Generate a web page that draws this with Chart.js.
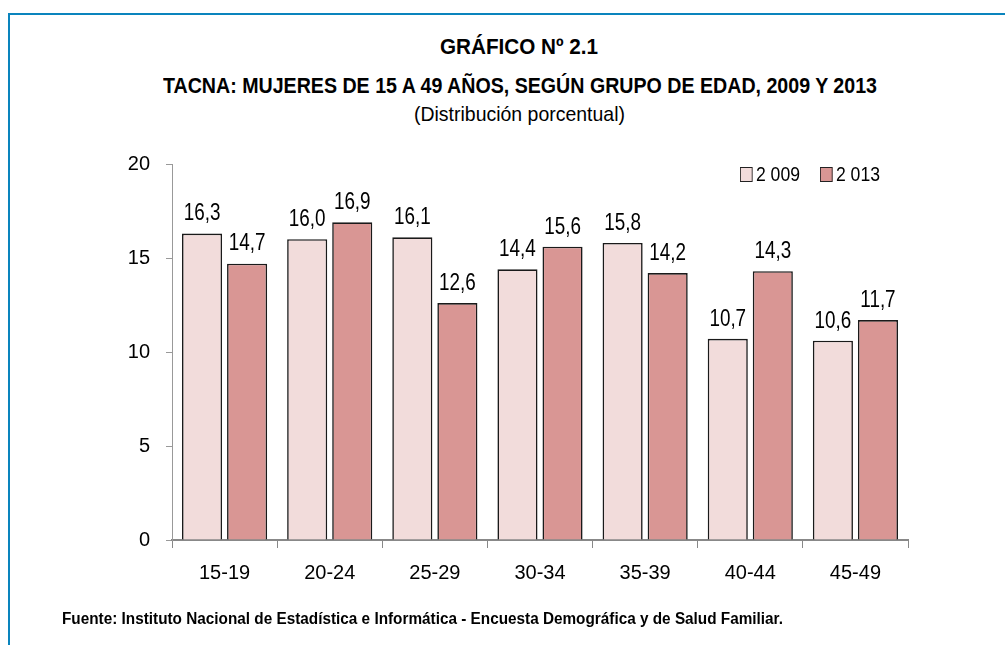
<!DOCTYPE html>
<html>
<head>
<meta charset="utf-8">
<script src="https://cdn.jsdelivr.net/npm/chart.js@4.4.0/dist/chart.umd.min.js"></script>
<style>
  html, body { margin: 0; padding: 0; background: #fff; }
  body { width: 1005px; height: 645px; position: relative; overflow: hidden;
         font-family: 'Liberation Sans', Arial, sans-serif; color: #000; }
  #frame { position: absolute; left: 8px; top: 13px; width: 1005px; height: 700px;
           border-left: 2px solid #0a84bd; border-top: 2px solid #0a84bd; }
  .txt { position: absolute; white-space: nowrap; transform-origin: 0 0; line-height: 1.15; }
  #t1 { top: 34px; font-size: 22px; font-weight: bold; }
  #t2 { top: 73px; font-size: 22px; font-weight: bold; }
  #t3 { top: 102px; font-size: 21px; }
  #fuente { top: 610px; font-size: 16px; font-weight: bold; }
  #chart { position: absolute; left: 0; top: 0; }
  .leg { position: absolute; top: 162px; font-size: 21px; white-space: nowrap; transform-origin: 0 0; }
  .leg i { display: inline-block; width: 13px; height: 13px; border: 1px solid #222; margin-right: 4px; vertical-align: -1px; }
</style>
</head>
<body>
<div id="frame"></div>
<span class="txt" id="t1" data-cx="519" data-w="158">GRÁFICO Nº 2.1</span>
<span class="txt" id="t2" data-cx="520" data-w="714">TACNA: MUJERES DE 15 A 49 AÑOS, SEGÚN GRUPO DE EDAD, 2009 Y 2013</span>
<span class="txt" id="t3" data-cx="519" data-w="211">(Distribución porcentual)</span>
<canvas id="chart" width="1005" height="645"></canvas>
<span class="leg" style="left:740px" data-x="740" data-w="60"><i style="background:#f2dcdb"></i>2 009</span>
<span class="leg" style="left:820px" data-x="820" data-w="60"><i style="background:#d99694"></i>2 013</span>
<span class="txt" id="fuente" data-x="62" data-w="721">Fuente: Instituto Nacional de Estadística e Informática - Encuesta Demográfica y de Salud Familiar.</span>
<script>
// datos
const grupos = ['15-19', '20-24', '25-29', '30-34', '35-39', '40-44', '45-49'];
const anio2009 = [16.3, 16.0, 16.1, 14.4, 15.8, 10.7, 10.6];
const anio2013 = [14.7, 16.9, 12.6, 15.6, 14.2, 14.3, 11.7];
const ticksY = [0, 5, 10, 15, 20];

const fuente = "'Liberation Sans', Arial, sans-serif";

// estrechar los textos html (la fuente original es Arial Narrow)
document.querySelectorAll('[data-w]').forEach(el => {
  const w = el.getBoundingClientRect().width;
  const s = +el.dataset.w / w;
  el.style.transform = 'scaleX(' + s + ')';
  if (el.dataset.cx) el.style.left = (+el.dataset.cx - w * s / 2) + 'px';
  else el.style.left = el.dataset.x + 'px';
});

// etiquetas sobre las barras
const etiquetas = {
  id: 'etiquetas',
  afterDatasetsDraw(chart) {
    const c = chart.ctx;
    c.save();
    c.font = '23px ' + fuente;
    c.fillStyle = '#000';
    c.textAlign = 'center';
    c.textBaseline = 'bottom';
    chart.data.datasets.forEach((ds, i) => {
      chart.getDatasetMeta(i).data.forEach((bar, j) => {
        c.save();
        c.translate(bar.x, bar.y - 8);
        c.scale(0.82, 1);
        c.fillText(ds.data[j].toFixed(1).replace('.', ','), 0, 0);
        c.restore();
      });
    });
    c.restore();
  }
};

new Chart(document.getElementById('chart'), {
  type: 'bar',
  data: {
    labels: grupos,
    datasets: [
      { label: '2 009', data: anio2009, backgroundColor: '#f2dcdb', borderColor: '#1a1a1a', borderWidth: 1.6 },
      { label: '2 013', data: anio2013, backgroundColor: '#d99694', borderColor: '#1a1a1a', borderWidth: 1.6 }
    ]
  },
  options: {
    responsive: false,
    animation: false,
    barPercentage: 0.89,
    categoryPercentage: 0.857,
    layout: { padding: { left: 0, top: 164, right: 97, bottom: 0 } },
    plugins: { legend: { display: false }, tooltip: { enabled: false } },
    scales: {
      x: {
        grid: { drawOnChartArea: false, drawTicks: true, tickLength: 8, color: '#888', offset: true },
        border: { color: '#888', width: 2 },
        ticks: { color: '#000', font: { size: 20, family: fuente }, padding: 13 },
        afterFit(s) { s.height = 105; }
      },
      y: {
        min: 0, max: 20,
        afterBuildTicks(s) { s.ticks = ticksY.map(v => ({ value: v })); },
        grid: { drawOnChartArea: false, drawTicks: true, tickLength: 6, color: '#999' },
        border: { color: '#999', width: 1, dash: [4, 3] },
        ticks: { color: '#000', font: { size: 20, family: fuente }, padding: 16 },
        afterFit(s) { s.width = 172; }
      }
    }
  },
  plugins: [etiquetas]
});
</script>
</body>
</html>
